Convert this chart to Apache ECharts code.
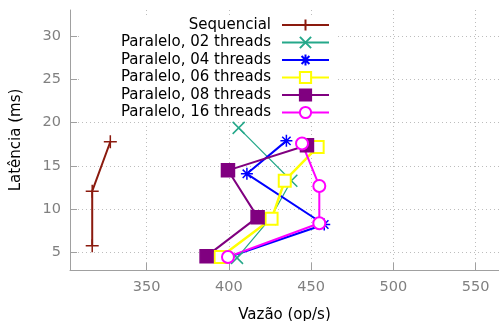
<!DOCTYPE html>
<html>
<head>
<meta charset="utf-8">
<script src="https://cdn.jsdelivr.net/npm/echarts@6/dist/echarts.min.js"></script>
<style>
  html, body { margin: 0; padding: 0; background: #fff; }
  #chart { width: 499px; height: 321px; }
</style>
</head>
<body>
<div id="chart"></div>
<script>
// values: [vazão, latência]
const seqData = [[317, 5.8], [317, 12.1], [328, 17.8]];
const p02Data = [[405, 4.4], [425, 8.9], [438, 13.3], [406, 19.4]];
const p04Data = [[400, 4.5], [458, 8.25], [411, 14.1], [435, 17.9]];
const p06Data = [[395, 4.5], [426, 8.9], [434, 13.3], [454, 17.2]];
const p08Data = [[386.5, 4.6], [417.5, 9.1], [399.5, 14.5], [447.5, 17.4]];
const p16Data = [[399.5, 4.5], [455, 8.4], [455, 12.7], [444.5, 17.6]];

const xTicks = [350, 400, 450, 500, 550];
const yTicks = [5, 10, 15, 20, 25, 30];

const names = ['Sequencial', 'Paralelo, 02 threads', 'Paralelo, 04 threads',
  'Paralelo, 06 threads', 'Paralelo, 08 threads', 'Paralelo, 16 threads'];

const font = 'DejaVu Sans';
const plusPath = 'path://M0,5L10,5M5,0L5,10';
const xPath = 'path://M0,0L10,10M0,10L10,0';
const starPath = 'path://M0,5L10,5M5,0L5,10M1.5,1.5L8.5,8.5M1.5,8.5L8.5,1.5';

function mkSeries(name, data, color, symbol, size, width) {
  return {
    name: name,
    type: 'line',
    data: data,
    symbol: symbol,
    symbolSize: size,
    showAllSymbol: true,
    lineStyle: { color: color, width: width },
    itemStyle: { color: color, borderColor: color, borderWidth: 1.5 },
    emphasis: { disabled: true },
    animation: false
  };
}

const series = [
  mkSeries(names[0], seqData, '#8b1a0e', plusPath, 13, 2),
  mkSeries(names[1], p02Data, '#25a88a', xPath, 12, 1.2),
  mkSeries(names[2], p04Data, '#0000ff', starPath, 12, 2),
  mkSeries(names[3], p06Data, '#ffff00', 'emptyRect', 12, 2.5),
  mkSeries(names[4], p08Data, '#800080', 'rect', 13, 2),
  mkSeries(names[5], p16Data, '#ff00ff', 'emptyCircle', 12, 2)
];

// one legend per row so the samples line up on the right
const rowTop = [17.5, 35, 52.5, 70, 87.5, 105];
const legends = names.map(function (n, i) {
  return {
    data: [n],
    top: rowTop[i],
    right: 169,
    orient: 'vertical',
    align: 'right',
    padding: 0,
    itemWidth: 47,
    itemHeight: 14,
    selectedMode: false,
    textStyle: { fontFamily: font, fontSize: 15, color: '#000', padding: [0, 6, 0, 0] }
  };
});

const option = {
  animation: false,
  backgroundColor: '#fff',
  grid: { left: 70, right: 0, top: 10, bottom: 51, containLabel: false, outerBoundsMode: 'none' },
  legend: legends,
  graphic: [{
    type: 'rect',
    z: 1,
    shape: { x: 79, y: 16, width: 259, height: 103 },
    style: { fill: '#fff' }
  }],
  xAxis: {
    type: 'value',
    min: 303.5,
    max: 564.2,
    name: 'Vazão (op/s)',
    nameLocation: 'middle',
    nameGap: 38,
    nameTextStyle: { fontFamily: font, fontSize: 15, color: '#000' },
    axisLine: { lineStyle: { color: '#a0a0a0', width: 1 } },
    axisTick: { inside: true, length: 7, customValues: xTicks, lineStyle: { color: '#a0a0a0' } },
    axisLabel: { customValues: xTicks, margin: 10, fontFamily: font, fontSize: 14.5, color: '#808080' },
    splitLine: { show: true, lineStyle: { color: '#bdbdbd', type: [1, 3], width: 1 } }
  },
  yAxis: {
    type: 'value',
    min: 3,
    max: 33,
    name: 'Latência (ms)',
    nameLocation: 'middle',
    nameGap: 46,
    nameTextStyle: { fontFamily: font, fontSize: 15, color: '#000' },
    axisLine: { show: true, lineStyle: { color: '#a0a0a0', width: 1 } },
    axisTick: { show: true, inside: true, length: 7, customValues: yTicks, lineStyle: { color: '#a0a0a0' } },
    axisLabel: { customValues: yTicks, margin: 9, fontFamily: font, fontSize: 14.5, color: '#808080' },
    splitLine: { show: true, lineStyle: { color: '#bdbdbd', type: [1, 3], width: 1 } }
  },
  series: series
};

const myChart = echarts.init(document.getElementById('chart'));
myChart.setOption(option);
</script>
</body>
</html>
